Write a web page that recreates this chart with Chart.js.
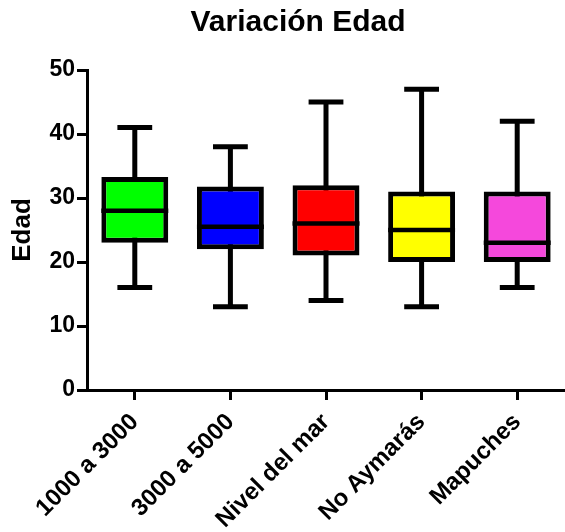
<!DOCTYPE html>
<html lang="es">
<head>
    <meta charset="UTF-8">
    <title>Variación Edad</title>
    <script src="https://cdn.jsdelivr.net/npm/chart.js@4/dist/chart.umd.min.js"></script>
    <style>
        html, body { margin: 0; padding: 0; background: #fff; }
        #wrap { width: 565px; height: 532px; }
    </style>
</head>
<body>
<div id="wrap"><canvas id="myChart"></canvas></div>

<script>
    // box plot data
    var groups = ['1000 a 3000', '3000 a 5000', 'Nivel del mar', 'No Aymarás', 'Mapuches'];
    var minVals = [16, 13, 14, 13, 16];
    var q1Vals = [23, 22, 21, 20, 20];
    var medianVals = [28, 25.5, 26, 25, 23];
    var q3Vals = [33.3, 31.8, 32, 31, 31];
    var maxVals = [41, 38, 45, 47, 42];
    var yTicks = [0, 10, 20, 30, 40, 50];
    var boxColors = ['#00ff00', '#0000ff', '#ff0000', '#ffff00', '#f548dc'];

    var FONT = "'Liberation Sans', Arial, sans-serif";

    // whiskers go behind the boxes, medians on top
    var boxLines = {
        id: 'boxLines',
        beforeDatasetsDraw: function (chart) {
            var ctx = chart.ctx, y = chart.scales.y;
            var meta = chart.getDatasetMeta(0);
            ctx.save();
            ctx.strokeStyle = '#000';
            ctx.lineWidth = 5;
            meta.data.forEach(function (bar, i) {
                var cap = bar.width * 0.26;
                var yMin = y.getPixelForValue(minVals[i]);
                var yMax = y.getPixelForValue(maxVals[i]);
                ctx.beginPath();
                ctx.moveTo(bar.x, yMin);
                ctx.lineTo(bar.x, yMax);
                ctx.moveTo(bar.x - cap, yMin);
                ctx.lineTo(bar.x + cap, yMin);
                ctx.moveTo(bar.x - cap, yMax);
                ctx.lineTo(bar.x + cap, yMax);
                ctx.stroke();
            });
            ctx.restore();
        },
        afterDatasetsDraw: function (chart) {
            var ctx = chart.ctx, y = chart.scales.y;
            var meta = chart.getDatasetMeta(0);
            ctx.save();
            ctx.strokeStyle = '#000';
            ctx.lineWidth = 4.5;
            meta.data.forEach(function (bar, i) {
                var yMed = y.getPixelForValue(medianVals[i]);
                ctx.beginPath();
                ctx.moveTo(bar.x - bar.width / 2, yMed);
                ctx.lineTo(bar.x + bar.width / 2, yMed);
                ctx.stroke();
            });
            ctx.restore();
        },
        afterDraw: function (chart) {
            var ctx = chart.ctx;
            ctx.save();
            ctx.fillStyle = '#000';
            ctx.font = 'bold 30px ' + FONT;
            ctx.textAlign = 'center';
            ctx.textBaseline = 'alphabetic';
            ctx.fillText('Variación Edad', 298, 31);
            ctx.restore();
        }
    };

    new Chart(document.getElementById('myChart'), {
        type: 'bar',
        data: {
            labels: groups,
            datasets: [{
                data: groups.map(function (g, i) { return [q1Vals[i], q3Vals[i]]; }),
                backgroundColor: boxColors,
                borderColor: '#000',
                borderWidth: 5,
                borderSkipped: false,
                barPercentage: 0.7,
                categoryPercentage: 1
            }]
        },
        options: {
            responsive: true,
            maintainAspectRatio: false,
            animation: false,
            layout: { padding: { top: 70, right: -4, left: 0, bottom: 0 } },
            plugins: {
                legend: { display: false },
                tooltip: { enabled: false },
                title: { display: false }
            },
            scales: {
                x: {
                    grid: {
                        display: true, drawOnChartArea: false, offset: false,
                        tickLength: 10, tickWidth: 3, tickColor: '#000'
                    },
                    border: { display: true, color: '#000', width: 3 },
                    ticks: {
                        color: '#000', font: { family: FONT, size: 24, weight: 'bold' },
                        minRotation: 45, maxRotation: 45, autoSkip: false, padding: 8
                    },
                    afterFit: function (scale) { scale.height = 142; }
                },
                y: {
                    min: 0,
                    max: 50,
                    grid: {
                        display: true, drawOnChartArea: false,
                        tickLength: 10, tickWidth: 3, tickColor: '#000'
                    },
                    border: { display: true, color: '#000', width: 3 },
                    afterBuildTicks: function (scale) {
                        scale.ticks = yTicks.map(function (v) { return { value: v }; });
                    },
                    ticks: {
                        color: '#000', font: { family: FONT, size: 23, weight: 'bold' }, padding: 2
                    },
                    title: {
                        display: true, text: 'Edad', color: '#000',
                        font: { family: FONT, size: 26, weight: 'bold' },
                        padding: { top: 7, bottom: 0 }
                    },
                    afterFit: function (scale) { scale.width = 87; }
                }
            }
        },
        plugins: [boxLines]
    });
</script>
</body>
</html>
